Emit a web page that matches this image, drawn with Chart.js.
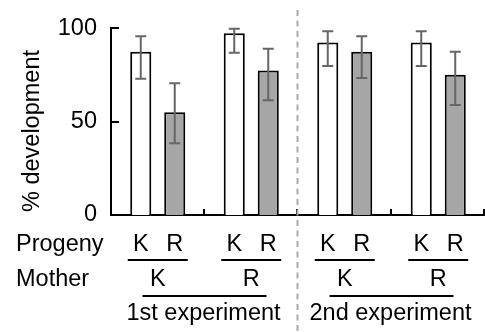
<!DOCTYPE html>
<html>
<head>
<meta charset="utf-8">
<script src="https://cdn.jsdelivr.net/npm/chart.js@4.4.0/dist/chart.umd.min.js"></script>
<style>
html, body { margin: 0; padding: 0; background: #fff; }
#wrap { width: 485px; height: 332px; }
</style>
</head>
<body>
<div id="wrap"><canvas id="devChart" width="485" height="332"></canvas></div>
<script>
// chart data
const mothers = ['K', 'R', 'K', 'R'];
const progeny = ['K', 'R'];
const experiments = ['1st experiment', '2nd experiment'];
const kValues = [87.3, 97.2, 92.3, 92.3];
const kUpper = [95.7, 99.6, 98.3, 98.3];
const kLower = [72.9, 86.8, 79.7, 79.7];
const rValues = [55.0, 77.3, 87.3, 75.0];
const rUpper = [70.5, 89.0, 95.6, 87.3];
const rLower = [38.4, 61.4, 73.3, 58.8];

const FONT = '23.5px "Liberation Sans", Arial, sans-serif';

// error bars
const errorBars = {
    id: 'errorBars',
    afterDatasetsDraw(chart) {
        const ctx = chart.ctx;
        const y = chart.scales.y;
        const bounds = [[kUpper, kLower], [rUpper, rLower]];
        ctx.save();
        ctx.strokeStyle = '#666';
        ctx.lineWidth = 2;
        chart.data.datasets.forEach((ds, d) => {
            const meta = chart.getDatasetMeta(d);
            meta.data.forEach((bar, i) => {
                const top = y.getPixelForValue(bounds[d][0][i]);
                const bot = y.getPixelForValue(bounds[d][1][i]);
                ctx.beginPath();
                ctx.moveTo(bar.x, top); ctx.lineTo(bar.x, bot);
                ctx.moveTo(bar.x - 5.5, top); ctx.lineTo(bar.x + 5.5, top);
                ctx.moveTo(bar.x - 5.5, bot); ctx.lineTo(bar.x + 5.5, bot);
                ctx.stroke();
            });
        });
        ctx.restore();
    }
};

// ticks, labels below the axis, dashed divider
const decorations = {
    id: 'decorations',
    afterDraw(chart) {
        const ctx = chart.ctx;
        const x = chart.scales.x;
        const y = chart.scales.y;
        const area = chart.chartArea;
        const half = (x.getPixelForValue(1) - x.getPixelForValue(0)) / 2;

        ctx.save();
        ctx.strokeStyle = '#000';
        ctx.lineWidth = 2;
        // y ticks pointing inward
        [50, 100].forEach(v => {
            const py = Math.round(y.getPixelForValue(v));
            ctx.beginPath();
            ctx.moveTo(area.left, py); ctx.lineTo(area.left + 8, py);
            ctx.stroke();
        });
        // x ticks at group boundaries
        mothers.forEach((m, i) => {
            const px = Math.round(x.getPixelForValue(i) + half) - 1;
            ctx.beginPath();
            ctx.moveTo(px, area.bottom); ctx.lineTo(px, area.bottom - 6);
            ctx.stroke();
        });

        // dashed divider between experiments
        const divX = (x.getPixelForValue(1) + x.getPixelForValue(2)) / 2 - 0.5;
        ctx.strokeStyle = '#aaa';
        ctx.setLineDash([6, 4.5]);
        ctx.beginPath();
        ctx.moveTo(divX, 10); ctx.lineTo(divX, 332);
        ctx.stroke();
        ctx.setLineDash([]);

        ctx.fillStyle = '#000';
        ctx.strokeStyle = '#000';
        ctx.font = FONT;
        ctx.textBaseline = 'alphabetic';

        // row titles
        ctx.textAlign = 'left';
        ctx.fillText('Progeny', 16, 251);
        ctx.fillText('Mother', 16, 286);

        ctx.textAlign = 'center';
        // progeny labels under each bar
        chart.data.datasets.forEach((ds, d) => {
            chart.getDatasetMeta(d).data.forEach(bar => {
                ctx.fillText(progeny[d], bar.x, 251);
            });
        });
        // mother labels and underlines
        mothers.forEach((m, i) => {
            const cx = x.getPixelForValue(i);
            ctx.beginPath();
            ctx.moveTo(cx - 30, 260); ctx.lineTo(cx + 30, 260);
            ctx.stroke();
            ctx.fillText(m, cx, 286);
        });
        // experiment labels
        experiments.forEach((e, j) => {
            const cx = (x.getPixelForValue(2 * j) + x.getPixelForValue(2 * j + 1)) / 2;
            ctx.beginPath();
            ctx.moveTo(cx - 62, 296); ctx.lineTo(cx + 62, 296);
            ctx.stroke();
            ctx.fillText(e, cx - 1, 320);
        });

        // y title
        ctx.translate(38.5, 131);
        ctx.rotate(-Math.PI / 2);
        ctx.fillText('% development', 0, 0);
        ctx.restore();
    }
};

new Chart(document.getElementById('devChart'), {
    type: 'bar',
    data: {
        labels: mothers,
        datasets: [{
            label: 'K',
            data: kValues,
            backgroundColor: '#ffffff',
            borderColor: '#000',
            borderWidth: 2
        }, {
            label: 'R',
            data: rValues,
            backgroundColor: '#a6a6a6',
            borderColor: '#000',
            borderWidth: 2
        }]
    },
    options: {
        responsive: false,
        animation: false,
        devicePixelRatio: 1,
        categoryPercentage: 0.727,
        barPercentage: 0.62,
        layout: { padding: { top: 24, bottom: 117, left: 0, right: 0 } },
        plugins: {
            legend: { display: false },
            tooltip: { enabled: false }
        },
        scales: {
            x: {
                grid: { display: false, drawTicks: false },
                ticks: { display: false },
                border: { color: '#000', width: 2 },
                afterFit: s => { s.height = 0; }
            },
            y: {
                min: 0,
                max: 100,
                ticks: {
                    stepSize: 50,
                    color: '#000',
                    padding: 14,
                    font: { family: '"Liberation Sans", Arial, sans-serif', size: 23.5 }
                },
                grid: { display: false, drawTicks: false },
                border: { color: '#000', width: 2 },
                afterFit: s => { s.width = 111; }
            }
        }
    },
    plugins: [errorBars, decorations]
});
</script>
</body>
</html>
